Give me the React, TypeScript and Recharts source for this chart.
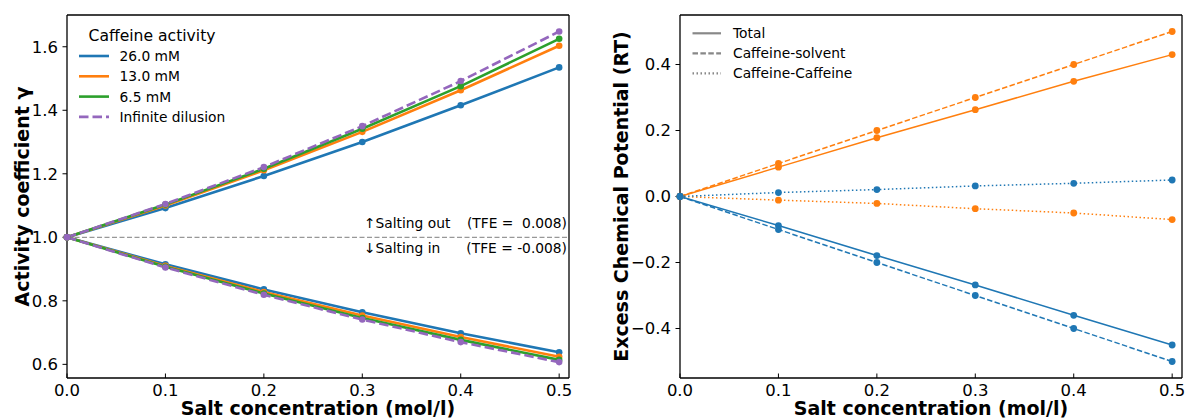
import { LineChart, Line, XAxis, YAxis, ReferenceLine, Legend } from 'recharts';

const salt = [0, 0.1, 0.2, 0.3, 0.4, 0.5];
const saltTicks = [0, 0.1, 0.2, 0.3, 0.4, 0.5];
const gammaTicks = [0.6, 0.8, 1.0, 1.2, 1.4, 1.6];
const muTicks = [-0.4, -0.2, 0, 0.2, 0.4];
const saltDomain = [0, 0.51];
const gammaDomain = [0.557, 1.7];
const muDomain = [-0.55, 0.55];

// activity coefficient: salting-out branch (above 1) and salting-in branch (below 1)
const out26 = [1, 1.092, 1.193, 1.3, 1.416, 1.535];
const out13 = [1, 1.1, 1.211, 1.332, 1.463, 1.603];
const out65 = [1, 1.103, 1.216, 1.342, 1.476, 1.625];
const outInf = [1, 1.105, 1.221, 1.35, 1.492, 1.648];
const in26 = [1, 0.915, 0.836, 0.764, 0.698, 0.638];
const in13 = [1, 0.91, 0.828, 0.754, 0.686, 0.624];
const in65 = [1, 0.907, 0.823, 0.746, 0.677, 0.614];
const inInf = [1, 0.905, 0.819, 0.741, 0.67, 0.607];

// excess chemical potential (RT)
const outTotal = [0, 0.089, 0.178, 0.263, 0.349, 0.43];
const outSolvent = [0, 0.1, 0.2, 0.3, 0.4, 0.5];
const outCaff = [0, -0.011, -0.021, -0.037, -0.05, -0.07];
const inTotal = [0, -0.088, -0.179, -0.268, -0.36, -0.45];
const inSolvent = [0, -0.1, -0.2, -0.3, -0.4, -0.5];
const inCaff = [0, 0.012, 0.021, 0.032, 0.04, 0.05];

const concLabels = ['26.0 mM', '13.0 mM', '6.5 mM', 'Infinite dilusion'];
const partLabels = ['Total', 'Caffeine-solvent', 'Caffeine-Caffeine'];

const BLUE = '#1f77b4';
const ORANGE = '#ff7f0e';
const GREEN = '#2ca02c';
const PURPLE = '#9467bd';
const GRAY = '#888888';
const FONT = '"DejaVu Sans", sans-serif';

const concColors = [BLUE, ORANGE, GREEN, PURPLE];
const concDash = [undefined, undefined, undefined, '9.5 4'];
const partDash = [undefined, '5.5 2.4', '1.5 2.5'];

const leftData = salt.map((s, i) => ({
  salt: s,
  out26: out26[i], in26: in26[i],
  out13: out13[i], in13: in13[i],
  out65: out65[i], in65: in65[i],
  outInf: outInf[i], inInf: inInf[i],
}));

const rightData = salt.map((s, i) => ({
  salt: s,
  outTotal: outTotal[i], outSolvent: outSolvent[i], outCaff: outCaff[i],
  inTotal: inTotal[i], inSolvent: inSolvent[i], inCaff: inCaff[i],
}));

const leftSeries = [
  { up: 'out26', down: 'in26', color: BLUE },
  { up: 'out13', down: 'in13', color: ORANGE },
  { up: 'out65', down: 'in65', color: GREEN },
  { up: 'outInf', down: 'inInf', color: PURPLE, dash: '9.5 4' },
];

const rightSeries = [
  { key: 'outTotal', color: ORANGE },
  { key: 'outSolvent', color: ORANGE, dash: partDash[1] },
  { key: 'outCaff', color: ORANGE, dash: partDash[2] },
  { key: 'inTotal', color: BLUE },
  { key: 'inSolvent', color: BLUE, dash: partDash[1] },
  { key: 'inCaff', color: BLUE, dash: partDash[2] },
];

const tickStyle = { fontSize: 16.5, fill: '#000', fontFamily: FONT };
const spine = { stroke: '#000', strokeWidth: 1.3 };
const fmt = (v: number) => v.toFixed(1).replace('-', '\u2212');

const yLabel = (text: string, x: number) => (props: any) => {
  const vb = props.viewBox || {};
  const cy = (vb.y ?? 15) + (vb.height ?? 363) / 2;
  return (
    <text x={x} y={cy} transform={`rotate(-90, ${x}, ${cy})`} textAnchor="middle"
      fontSize={19} fontWeight="bold" fontFamily={FONT} fill="#000">{text}</text>
  );
};

const xLabel = (props: any) => {
  const vb = props.viewBox || {};
  const cx = vb.x + vb.width / 2;
  return (
    <text x={cx} y={415} textAnchor="middle" fontSize={19} fontWeight="bold" fontFamily={FONT} fill="#000">
      Salt concentration (mol/l)
    </text>
  );
};

const saltingLabel = (props: any) => {
  const vb = props.viewBox || {};
  const right = vb.x + vb.width;
  const t = { fontSize: 13.8, fontFamily: FONT, fill: '#000' };
  return (
    <g>
      <text x={right - 205} y={vb.y - 9} {...t}>↑Salting out</text>
      <text x={right - 2} y={vb.y - 9} textAnchor="end" style={{ whiteSpace: 'pre' }} {...t}>(TFE =  0.008)</text>
      <text x={right - 205} y={vb.y + 15.5} {...t}>↓Salting in</text>
      <text x={right - 2} y={vb.y + 15.5} textAnchor="end" style={{ whiteSpace: 'pre' }} {...t}>(TFE = -0.008)</text>
    </g>
  );
};

function ConcLegend() {
  return (
    <svg width={240} height={130} style={{ display: 'block' }}>
      <text x={88.5} y={40.5} fontSize={15.6} fontFamily={FONT} fill="#000">Caffeine activity</text>
      {concLabels.map((lab, i) => {
        const y = 56 + i * 20.3;
        return (
          <g key={lab}>
            <line x1={79} x2={109} y1={y} y2={y} stroke={concColors[i]} strokeWidth={2.6} strokeDasharray={concDash[i]} />
            <text x={119.5} y={y + 5} fontSize={13.8} fontFamily={FONT} fill="#000">{lab}</text>
          </g>
        );
      })}
    </svg>
  );
}

function PartLegend() {
  return (
    <svg width={280} height={90} style={{ display: 'block' }}>
      {partLabels.map((lab, i) => {
        const y = 33.3 + i * 20;
        return (
          <g key={lab}>
            <line x1={99.5} x2={128} y1={y} y2={y} stroke={GRAY} strokeWidth={2.2} strokeDasharray={partDash[i]} />
            <text x={140} y={y + 5} fontSize={13.8} fontFamily={FONT} fill="#000">{lab}</text>
          </g>
        );
      })}
    </svg>
  );
}

function ActivityPanel() {
  return (
    <LineChart width={593} height={420} data={leftData} margin={{ top: 15, right: 24, bottom: 0, left: 0 }} style={{ fontFamily: FONT }}>
      <XAxis dataKey="salt" type="number" domain={saltDomain} ticks={saltTicks} tickFormatter={fmt} height={42}
        tickSize={-4.5} tickMargin={10.8} tick={tickStyle} axisLine={spine} tickLine={{ stroke: '#000' }} label={xLabel} />
      <YAxis type="number" domain={gammaDomain} ticks={gammaTicks} tickFormatter={fmt} width={67} allowDataOverflow
        tickSize={4.5} tickMargin={4.5} tick={tickStyle} axisLine={spine} tickLine={{ stroke: '#000' }}
        label={yLabel('Activity coefficient γ', 29)} />
      <ReferenceLine y={gammaDomain[1]} {...spine} />
      <ReferenceLine x={saltDomain[1]} {...spine} />
      <ReferenceLine y={1} stroke="#7f7f7f" strokeWidth={1} strokeDasharray="5 2.5" label={saltingLabel} />
      {leftSeries.flatMap((s) => [s.up, s.down].map((k) => (
        <Line key={k} dataKey={k} stroke={s.color} strokeWidth={2.6} strokeDasharray={s.dash}
          dot={{ r: 3.3, fill: s.color, stroke: 'none', strokeWidth: 0, strokeDasharray: 'none' }}
          activeDot={false} isAnimationActive={false} />
      )))}
      <Legend layout="vertical" align="center" verticalAlign="middle" content={() => <ConcLegend />}
        wrapperStyle={{ left: 0, top: 0, width: 240, height: 130 }} />
    </LineChart>
  );
}

function PotentialPanel() {
  return (
    <LineChart width={593} height={420} data={rightData} margin={{ top: 15, right: 4, bottom: 0, left: 0 }} style={{ fontFamily: FONT }}>
      <XAxis dataKey="salt" type="number" domain={saltDomain} ticks={saltTicks} tickFormatter={fmt} height={42}
        tickSize={-4.5} tickMargin={10.8} tick={tickStyle} axisLine={spine} tickLine={{ stroke: '#000' }} label={xLabel} />
      <YAxis type="number" domain={muDomain} ticks={muTicks} tickFormatter={fmt} width={87} allowDataOverflow
        tickSize={4.5} tickMargin={4.5} tick={tickStyle} axisLine={spine} tickLine={{ stroke: '#000' }}
        label={yLabel('Excess Chemical Potential (RT)', 35)} />
      <ReferenceLine y={muDomain[1]} {...spine} />
      <ReferenceLine x={saltDomain[1]} {...spine} />
      {rightSeries.map((s) => (
        <Line key={s.key} dataKey={s.key} stroke={s.color} strokeWidth={1.5} strokeDasharray={s.dash}
          dot={{ r: 3.4, fill: s.color, stroke: 'none', strokeWidth: 0, strokeDasharray: 'none' }}
          activeDot={false} isAnimationActive={false} />
      ))}
      <Legend layout="vertical" align="center" verticalAlign="middle" content={() => <PartLegend />}
        wrapperStyle={{ left: 0, top: 0, width: 280, height: 90 }} />
    </LineChart>
  );
}

export default function App() {
  return (
    <div style={{ position: 'absolute', left: 0, top: 0, width: 1186, height: 420, background: '#fff' }}>
      <div style={{ position: 'absolute', left: 0, top: 0 }}>
        <ActivityPanel />
      </div>
      <div style={{ position: 'absolute', left: 593, top: 0 }}>
        <PotentialPanel />
      </div>
    </div>
  );
}
